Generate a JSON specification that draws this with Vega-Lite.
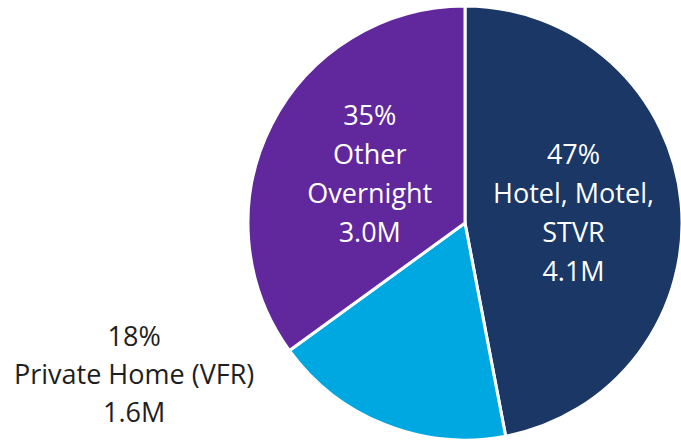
{
  "$schema": "https://vega.github.io/schema/vega-lite/v6.json",
  "autosize": {"type": "none"},
  "padding": {"left": 249, "top": 6, "right": 0, "bottom": 1},
  "width": 432,
  "height": 434,
  "background": "white",
  "config": {"view": {"stroke": null}},
  "data": {
    "values": [
      {"category": "Hotel, Motel, STVR", "share": 47, "order": 1, "inLabel": "47%\nHotel, Motel,\nSTVR\n4.1M", "outLabel": ""},
      {"category": "Private Home (VFR)", "share": 18, "order": 2, "inLabel": "", "outLabel": "18%\nPrivate Home (VFR)\n1.6M"},
      {"category": "Other Overnight", "share": 35, "order": 3, "inLabel": "35%\nOther\nOvernight\n3.0M", "outLabel": ""}
    ]
  },
  "encoding": {
    "theta": {"field": "share", "type": "quantitative", "stack": true},
    "order": {"field": "order", "type": "quantitative"}
  },
  "layer": [
    {
      "mark": {"type": "arc", "outerRadius": 217, "stroke": "white", "strokeWidth": 3},
      "encoding": {
        "color": {
          "field": "category",
          "type": "nominal",
          "scale": {
            "domain": ["Hotel, Motel, STVR", "Private Home (VFR)", "Other Overnight"],
            "range": ["#1a3765", "#00a8e1", "#61279c"]
          },
          "legend": null
        }
      }
    },
    {
      "mark": {"type": "text", "radius": 108, "dx": 1, "dy": -57, "fill": "white", "font": "Open Sans", "fontSize": 27, "lineBreak": "\n", "lineHeight": 39, "baseline": "middle", "align": "center"},
      "encoding": {"text": {"field": "inLabel"}}
    },
    {
      "mark": {"type": "text", "radius": 217, "dx": -251, "dy": -87, "fill": "#1e1e1e", "font": "Open Sans", "fontSize": 27, "lineBreak": "\n", "lineHeight": 38, "baseline": "middle", "align": "center"},
      "encoding": {"text": {"field": "outLabel"}}
    }
  ]
}
